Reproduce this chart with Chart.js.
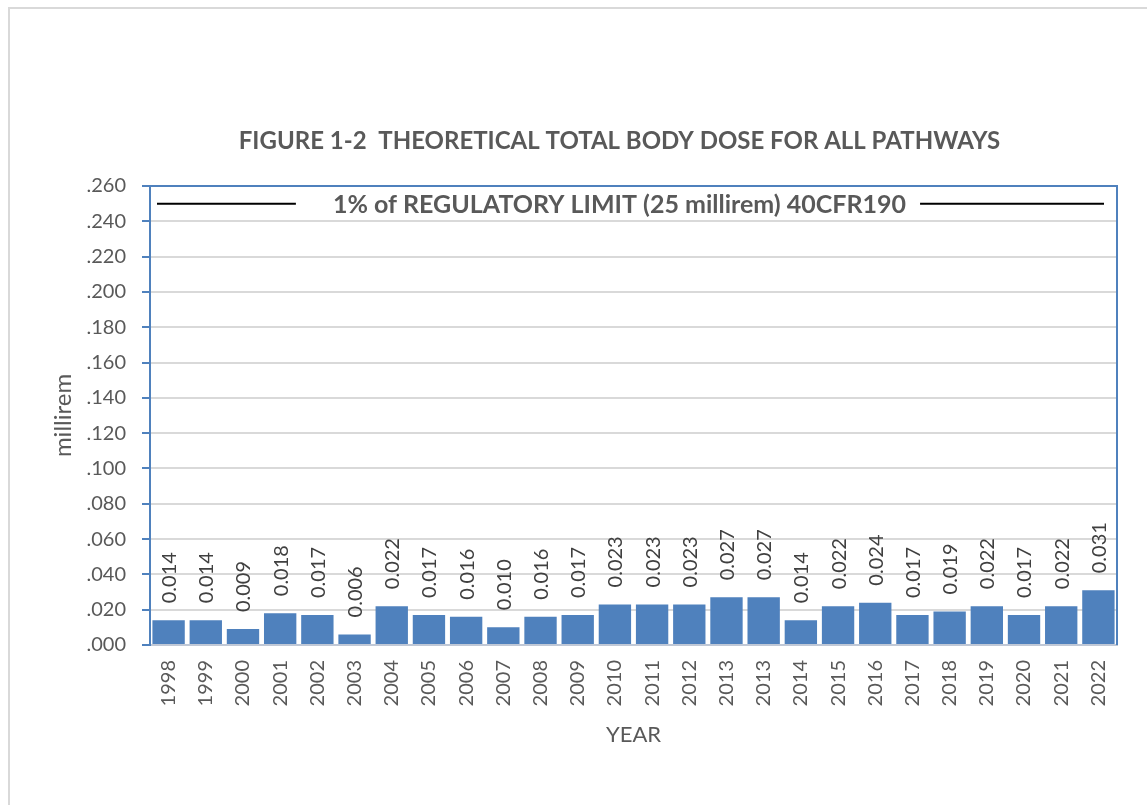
<!DOCTYPE html>
<html>
<head>
<meta charset="utf-8">
<script src="https://cdn.jsdelivr.net/npm/chart.js@4"></script>
<style>
  html, body { margin: 0; padding: 0; background: #fff; overflow: hidden; }
  #frame { position: absolute; left: 8px; top: 7px; width: 1200px; height: 900px; border: 2px solid #d9d9d9; box-sizing: border-box; }
  #doseChart { position: absolute; left: 0; top: 0; }
</style>
</head>
<body>
<div id="frame"></div>
<canvas id="doseChart" width="1147" height="805"></canvas>
<script>
// данные графика
const years = ['1998', '1999', '2000', '2001', '2002', '2003', '2004', '2005', '2006', '2007', '2008', '2009',
  '2010', '2011', '2012', '2013', '2013', '2014', '2015', '2016', '2017', '2018', '2019', '2020', '2021', '2022'];
const doseValues = [0.014, 0.014, 0.009, 0.018, 0.017, 0.006, 0.022, 0.017, 0.016, 0.010, 0.016, 0.017,
  0.023, 0.023, 0.023, 0.027, 0.027, 0.014, 0.022, 0.024, 0.017, 0.019, 0.022, 0.017, 0.022, 0.031];
const limitValue = 0.25;
const limitLabel = '1% of REGULATORY LIMIT (25 millirem) 40CFR190';
const chartTitle = 'FIGURE 1-2  THEORETICAL TOTAL BODY DOSE FOR ALL PATHWAYS';
const yMin = 0;
const yMax = 0.26;
const yStep = 0.02;

const fontFamily = 'Lato, "Open Sans", sans-serif';
const gray = '#595959';
const blue = '#4f81bd';

// подписи значений над столбцами
const barLabels = {
  id: 'barLabels',
  afterDatasetsDraw(chart) {
    const ctx = chart.ctx;
    const meta = chart.getDatasetMeta(0);
    ctx.save();
    ctx.fillStyle = '#404040';
    ctx.font = '20px ' + fontFamily;
    ctx.textAlign = 'left';
    ctx.textBaseline = 'middle';
    meta.data.forEach((bar, i) => {
      ctx.save();
      ctx.translate(bar.x + 1, bar.y - 17);
      ctx.rotate(-Math.PI / 2);
      ctx.fillText(doseValues[i].toFixed(3), 0, 0);
      ctx.restore();
    });
    ctx.restore();
  }
};

// заголовок, рамка области построения и линия предела
const plotExtras = {
  id: 'plotExtras',
  afterDraw(chart) {
    const ctx = chart.ctx;
    const area = chart.chartArea;
    const y = chart.scales.y.getPixelForValue(limitValue);
    const cx = area.left + (area.right - area.left) * 0.4855;
    ctx.save();

    ctx.fillStyle = gray;
    ctx.textAlign = 'center';
    ctx.textBaseline = 'middle';
    ctx.font = 'bold 24px ' + fontFamily;
    ctx.fillText(chartTitle, cx, area.top - 45);

    ctx.strokeStyle = blue;
    ctx.lineWidth = 2;
    ctx.beginPath();
    ctx.moveTo(area.left, area.top);
    ctx.lineTo(area.right, area.top);
    ctx.lineTo(area.right, area.bottom);
    ctx.stroke();

    ctx.font = 'bold 25px ' + fontFamily;
    const textW = ctx.measureText(limitLabel).width;
    const tl = cx - textW / 2;
    const tr = cx + textW / 2;
    ctx.strokeStyle = '#000';
    ctx.lineWidth = 2;
    ctx.beginPath();
    ctx.moveTo(area.left + 7, y);
    ctx.lineTo(tl - 37, y);
    ctx.moveTo(tr + 14, y);
    ctx.lineTo(area.right - 13, y);
    ctx.stroke();
    ctx.fillText(limitLabel, cx, y + 1);
    ctx.restore();
  }
};

const ctx = document.getElementById('doseChart').getContext('2d');
const doseChart = new Chart(ctx, {
  type: 'bar',
  data: {
    labels: years,
    datasets: [{
      data: doseValues,
      backgroundColor: blue,
      borderWidth: 0,
      barPercentage: 0.87,
      categoryPercentage: 1.0
    }]
  },
  options: {
    responsive: false,
    animation: false,
    layout: { padding: { left: 40, right: 30, top: 186, bottom: 45 } },
    plugins: {
      legend: { display: false },
      tooltip: { enabled: false },
      title: { display: false }
    },
    scales: {
      x: {
        grid: { display: false, drawTicks: false },
        border: { color: '#c0c8d6', width: 2 },
        ticks: {
          color: gray,
          font: { family: fontFamily, size: 20 },
          minRotation: 90,
          maxRotation: 90,
          autoSkip: false,
          padding: 15
        },
        title: {
          display: true,
          text: 'YEAR',
          color: gray,
          font: { family: fontFamily, size: 22 },
          padding: { top: 0, bottom: 11.8 }
        },
        afterFit(scale) { scale.height = 115; }
      },
      y: {
        min: yMin,
        max: yMax,
        grid: { color: '#d9d9d9', lineWidth: 2, tickColor: blue, tickLength: 8, tickWidth: 2 },
        border: { color: blue, width: 2 },
        ticks: {
          stepSize: yStep,
          color: gray,
          font: { family: fontFamily, size: 20 },
          padding: 16,
          callback: (v) => Number(v).toFixed(3).replace(/^0/, '')
        },
        title: {
          display: true,
          text: 'millirem',
          color: gray,
          font: { family: fontFamily, size: 24 },
          padding: { top: 8.6, bottom: 0 }
        },
        afterFit(scale) { scale.width = 110; }
      }
    }
  },
  plugins: [barLabels, plotExtras]
});
</script>
</body>
</html>
